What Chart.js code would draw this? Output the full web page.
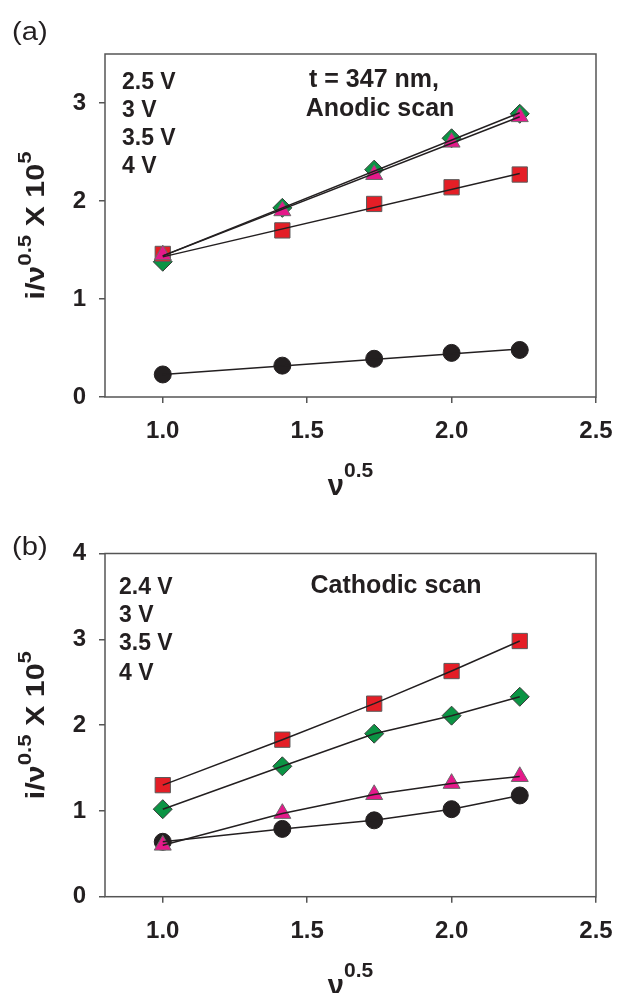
<!DOCTYPE html>
<html><head><meta charset="utf-8">
<script src="https://cdn.jsdelivr.net/npm/chart.js@4"></script>
<style>
html,body{margin:0;padding:0;background:#fff;width:618px;height:993px;overflow:hidden}
.box{position:absolute;left:0;width:618px}
#wa{top:0;height:497px}
#wb{top:497px;height:496px}
</style></head><body>
<div class="box" id="wa"><canvas id="ca"></canvas></div>
<div class="box" id="wb"><canvas id="cb"></canvas></div>
<script>
// ---- data ----
const xValues = [1.0, 1.414, 1.732, 2.0, 2.236];   // v^0.5
const fitX = [1.0, 2.236];

// panel (a) anodic scan
const aCircle   = [0.23, 0.32, 0.39, 0.45, 0.48];
const aSquare   = [1.46, 1.70, 1.97, 2.14, 2.27];
const aDiamond  = [1.38, 1.93, 2.32, 2.64, 2.89];
const aTriangle = [1.45, 1.90, 2.27, 2.60, 2.86];
// straight fit lines in (a), read at x = 1.0 and x = 2.236
const aCircleFit   = [0.23, 0.49];
const aSquareFit   = [1.43, 2.28];
const aDiamondFit  = [1.44, 2.90];
const aTriangleFit = [1.44, 2.86];

// panel (b) cathodic scan
const bCircle   = [0.64, 0.79, 0.89, 1.02, 1.18];
const bSquare   = [1.30, 1.83, 2.25, 2.63, 2.98];
const bDiamond  = [1.02, 1.52, 1.90, 2.11, 2.33];
const bTriangle = [0.60, 0.97, 1.19, 1.32, 1.40];

const aLegend = ['2.5 V', '3 V', '3.5 V', '4 V'];
const aNote   = ['t = 347 nm,', 'Anodic scan'];
const bLegend = ['2.4 V', '3 V', '3.5 V', '4 V'];
const bNote   = ['Cathodic scan'];

// ---- styles ----
const FONT = "'Liberation Sans', Arial, Helvetica, sans-serif";
const INK = '#231f20';
const AXIS = '#555555';
const ST = {
  circle:   {style: 'circle',   r: 8.5,  fill: '#231f20', edge: '#231f20', order: 4},
  square:   {style: 'rect',     r: 10.8, fill: '#e41e26', edge: '#5a5a5a', order: 2},
  diamond:  {style: 'rectRot',  r: 9.5,  fill: '#0b9444', edge: '#3a3a3a', order: 3},
  triangle: {style: 'triangle', r: 9.8,  fill: '#e5198a', edge: '#6a6a6a', order: 1}
};

function pts(xs, ys) { return xs.map((x, i) => ({x: x, y: ys[i]})); }

function drawPieces(ctx, pieces, stretch) {
  let total = 0;
  pieces.forEach(p => { ctx.font = p.font; p.w = ctx.measureText(p.t).width; total += p.w; });
  ctx.save();
  ctx.scale(stretch, 1);
  let x = -total / 2;
  pieces.forEach(p => { ctx.font = p.font; ctx.fillText(p.t, x, p.dy); x += p.w; });
  ctx.restore();
}

const textPlugin = {
  id: 'texts',
  afterDraw(chart) {
    const o = chart.options.plugins.texts;
    const ctx = chart.ctx, a = chart.chartArea;
    ctx.save();
    // frame
    ctx.strokeStyle = AXIS; ctx.lineWidth = 1.5;
    ctx.strokeRect(a.left, a.top, a.right - a.left, a.bottom - a.top);
    ctx.fillStyle = INK;
    ctx.textBaseline = 'alphabetic';
    // panel label
    ctx.save();
    ctx.translate(12, o.panelY);
    ctx.scale(1.12, 1);
    ctx.font = '26px ' + FONT;
    ctx.textAlign = 'left';
    ctx.fillText(o.panel, 0, 0);
    ctx.restore();
    // legend text
    ctx.font = 'bold 23px ' + FONT;
    ctx.textAlign = 'left';
    o.legend.forEach((t, i) => ctx.fillText(t, a.left + o.legX, a.top + o.legY[i]));
    // notes
    ctx.font = 'bold 25px ' + FONT;
    ctx.textAlign = 'center';
    o.notes.forEach((t, i) => ctx.fillText(t, a.left + o.noteX[i], a.top + o.noteY[i]));
    // y title
    ctx.textAlign = 'left';
    ctx.save();
    ctx.translate(44, (a.top + a.bottom) / 2);
    ctx.rotate(-Math.PI / 2);
    drawPieces(ctx, [
      {t: 'i/\u03bd', font: 'bold 26px ' + FONT, dy: 0},
      {t: '0.5', font: 'bold 19px ' + FONT, dy: -13},
      {t: ' X 10', font: 'bold 26px ' + FONT, dy: 0},
      {t: '5', font: 'bold 19px ' + FONT, dy: -13}
    ], 1.17);
    ctx.restore();
    // x title
    ctx.save();
    ctx.translate((a.left + a.right) / 2, a.bottom + 98);
    drawPieces(ctx, [
      {t: '\u03bd', font: 'bold 29px ' + FONT, dy: 0},
      {t: '0.5', font: 'bold 21px ' + FONT, dy: -18}
    ], 1.0);
    ctx.restore();
    ctx.restore();
  }
};

function buildChart(id, p) {
  const datasets = [];
  p.series.forEach(s => {
    const st = ST[s.kind];
    datasets.push({
      label: s.label, data: pts(xValues, s.y), showLine: false,
      pointStyle: st.style, pointRadius: st.r, pointHoverRadius: st.r,
      pointBackgroundColor: st.fill, pointBorderColor: st.edge, pointBorderWidth: 1,
      order: st.order
    });
    datasets.push({
      label: s.label + ' line', data: pts(s.lineX, s.lineY), showLine: true,
      borderColor: INK, borderWidth: 1.5, pointRadius: 0, pointHoverRadius: 0,
      fill: false, tension: 0, order: 0
    });
  });
  const tickFont = {family: FONT, size: 24, weight: 'bold'};
  return new Chart(document.getElementById(id), {
    type: 'scatter',
    data: {datasets: datasets},
    plugins: [textPlugin],
    options: {
      responsive: true, maintainAspectRatio: false, animation: false, events: [],
      layout: {padding: {top: p.padTop, right: 22, left: 0, bottom: 0}},
      plugins: {
        legend: {display: false}, tooltip: {enabled: false},
        texts: p.texts
      },
      scales: {
        x: {
          type: 'linear', min: 0.8, max: 2.5,
          ticks: {stepSize: 0.5, includeBounds: false, callback: v => v.toFixed(1),
                  font: tickFont, color: INK, padding: 14, maxRotation: 0, autoSkip: false},
          grid: {drawOnChartArea: false, drawTicks: true, tickLength: 6, color: AXIS, lineWidth: 1.5},
          border: {display: false},
          afterFit: s => { s.height = p.xH; s.paddingLeft = 0; s.paddingRight = 0; }
        },
        y: {
          type: 'linear', min: 0, max: p.yMax,
          ticks: {stepSize: 1, includeBounds: false, callback: v => String(v),
                  font: tickFont, color: INK, padding: 13},
          grid: {drawOnChartArea: false, drawTicks: true, tickLength: 6, color: AXIS, lineWidth: 1.5},
          border: {display: false},
          afterFit: s => { s.width = 105; s.paddingTop = 0; s.paddingBottom = 0; }
        }
      }
    }
  });
}

buildChart('ca', {
  yMax: 3.5, padTop: 54, xH: 100,
  series: [
    {label: aLegend[0], kind: 'circle',   y: aCircle,   lineX: fitX, lineY: aCircleFit},
    {label: aLegend[1], kind: 'square',   y: aSquare,   lineX: fitX, lineY: aSquareFit},
    {label: aLegend[2], kind: 'diamond',  y: aDiamond,  lineX: fitX, lineY: aDiamondFit},
    {label: aLegend[3], kind: 'triangle', y: aTriangle, lineX: fitX, lineY: aTriangleFit}
  ],
  texts: {panel: '(a)', panelY: 40, legend: aLegend, legX: 17, legY: [35, 63, 91, 119],
          notes: aNote, noteX: [269, 275], noteY: [33, 62]}
});

buildChart('cb', {
  yMax: 4, padTop: 56.5, xH: 96.3,
  series: [
    {label: bLegend[0], kind: 'circle',   y: bCircle,   lineX: xValues, lineY: bCircle},
    {label: bLegend[1], kind: 'square',   y: bSquare,   lineX: xValues, lineY: bSquare},
    {label: bLegend[2], kind: 'diamond',  y: bDiamond,  lineX: xValues, lineY: bDiamond},
    {label: bLegend[3], kind: 'triangle', y: bTriangle, lineX: xValues, lineY: bTriangle}
  ],
  texts: {panel: '(b)', panelY: 58, legend: bLegend, legX: 14, legY: [40.5, 68, 96.5, 126],
          notes: bNote, noteX: [291], noteY: [39.5]}
});
</script>
</body></html>
